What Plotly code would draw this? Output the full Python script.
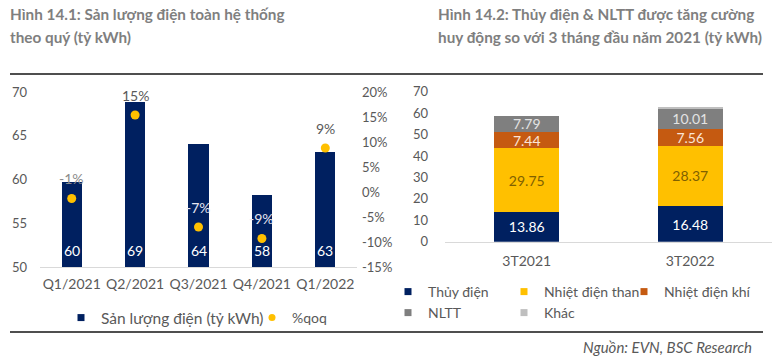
import plotly.graph_objects as go

W, H = 772, 360
FONT = "Lato"
GRAY_TXT = "#595959"
NAVY = "#002060"
GOLD = "#FFC000"
ORANGE = "#C55A11"
DGRAY = "#7F7F7F"
LGRAY = "#BFBFBF"
RULE = "#4D4D4D"

# ---- Left chart data ----
quarters = ["Q1/2021", "Q2/2021", "Q3/2021", "Q4/2021", "Q1/2022"]
output_twh = [59.7, 68.9, 64.1, 58.2, 63.1]
qoq_pct = [-1.3, 15.4, -7.0, -9.3, 8.8]
left_ticks = [50, 55, 60, 65, 70]
right_tickvals = [-15, -10, -5, 0, 5, 10, 15, 20]
right_ticktext = ["-15%", "-10%", "-5%", "0%", "5%", "10%", "15%", "20%"]
qoq_label_colors = ["#8C8C8C", "#595959", "#E6E6F0", "#E6E6F0", "#595959"]

# ---- Right chart data ----
periods = ["3T2021", "3T2022"]
thuy_dien = [13.86, 16.48]
nhiet_than = [29.75, 28.37]
nhiet_khi = [7.44, 7.56]
nltt = [7.79, 10.01]
khac = [0.0, 0.3]
stack_ticks = [0, 10, 20, 30, 40, 50, 60, 70]

# page rules (pixel rows of the two framing lines)
rule_rows = [74, 332]
rule_left, rule_right = 10, 763


def px(x):
    return x / W


def py(y):
    return 1 - y / H


fig = go.Figure()

# Framing rules as a line trace on a hidden full-page axis (drawn first)
rx, ry = [], []
for r in rule_rows:
    rx += [rule_left, rule_right, None]
    ry += [r, r, None]
fig.add_trace(go.Scatter(
    x=rx, y=ry, xaxis="x3", yaxis="y4", mode="lines", cliponaxis=False,
    line=dict(color=RULE, width=1.6), showlegend=False, hoverinfo="skip"))

# Left chart bars
fig.add_trace(go.Bar(
    x=quarters, y=output_twh, xaxis="x", yaxis="y", width=0.32,
    marker=dict(color=NAVY, line=dict(width=0)), showlegend=False,
    name="Sản lượng điện (tỷ kWh)", hoverinfo="skip"))
# qoq points
fig.add_trace(go.Scatter(
    x=quarters, y=qoq_pct, xaxis="x", yaxis="y2", mode="markers",
    marker=dict(color=GOLD, size=9), showlegend=False, name="%qoq"))

# Right chart stacked bars
stack_series = [
    ("Thủy điện", thuy_dien, NAVY, "#FFFFFF"),
    ("Nhiệt điện than", nhiet_than, GOLD, "#7F6000"),
    ("Nhiệt điện khí", nhiet_khi, ORANGE, "#FBE5D6"),
    ("NLTT", nltt, DGRAY, "#E3E3E3"),
    ("Khác", khac, LGRAY, "#595959"),
]
for name, vals, col, tcol in stack_series:
    fig.add_trace(go.Bar(
        x=periods, y=vals, xaxis="x2", yaxis="y3", width=0.4, name=name,
        marker=dict(color=col, line=dict(width=0)),
        text=[f"{v:.2f}" if name != "Khác" else "" for v in vals],
        textposition="inside", insidetextanchor="middle",
        textfont=dict(color=tcol, size=14, family=FONT),
        showlegend=False, hoverinfo="skip"))

# Legend-only entries (small symbols), parked off-screen on the hidden page axis
legend_items = [
    ("Sản lượng điện (tỷ kWh)", NAVY, "square", "legend"),
    ("%qoq", GOLD, "circle", "legend2"),
    ("Thủy điện", NAVY, "square", "legend3"),
    ("Nhiệt điện than", GOLD, "square", "legend4"),
    ("Nhiệt điện khí", ORANGE, "square", "legend5"),
    ("NLTT", DGRAY, "square", "legend6"),
    ("Khác", LGRAY, "square", "legend7"),
]
for name, col, sym, lg in legend_items:
    fig.add_trace(go.Scatter(
        x=[-100], y=[-100], xaxis="x3", yaxis="y4", mode="markers", name=name,
        marker=dict(color=col, symbol=sym, size=7), legend=lg, showlegend=True,
        hoverinfo="skip"))

annotations = []
# bar value labels at the base
for q, v in zip(quarters, output_twh):
    annotations.append(dict(x=q, y=left_ticks[0], xref="x", yref="y", yshift=17,
                            text=f"{v:.0f}", showarrow=False,
                            font=dict(color="#FFFFFF", size=14, family=FONT)))
# qoq labels above dots
for q, v, c in zip(quarters, qoq_pct, qoq_label_colors):
    annotations.append(dict(x=q, y=v, xref="x", yref="y2", yshift=20,
                            text=f"{v:.0f}%", showarrow=False,
                            font=dict(color=c, size=14, family=FONT)))

# titles
title_font = dict(color="#7F7F7F", size=15.3, family=FONT, weight="bold")
for txt, x, y in [
    ("Hình 14.1: Sản lượng điện toàn hệ thống", 8, 14),
    ("theo quý (tỷ kWh)", 8, 37),
    ("Hình 14.2: Thủy điện & NLTT được tăng cường", 436, 14),
    ("huy động so với 3 tháng đầu năm 2021 (tỷ kWh)", 436, 37),
]:
    annotations.append(dict(x=px(x), y=py(y), xref="paper", yref="paper",
                            xanchor="left", yanchor="middle", text=txt,
                            showarrow=False, font=title_font))
annotations.append(dict(x=px(754), y=py(347), xref="paper", yref="paper",
                        xanchor="right", yanchor="middle",
                        text="<i>Nguồn: EVN, BSC Research</i>", showarrow=False,
                        font=dict(color=GRAY_TXT, size=15, family=FONT)))

# same rules also as shapes (above and below layers, axis- and paper-referenced)
shapes = []
for r in rule_rows:
    shapes.append(dict(type="line", xref="paper", yref="paper", layer="above",
                       x0=px(rule_left), x1=px(rule_right), y0=py(r), y1=py(r),
                       line=dict(color=RULE, width=1.6)))
    shapes.append(dict(type="line", xref="x3", yref="y4", layer="below",
                       x0=rule_left, x1=rule_right, y0=r, y1=r,
                       line=dict(color=RULE, width=1.6)))

tickfont = dict(color=GRAY_TXT, size=13, family=FONT)
xtickfont = dict(color=GRAY_TXT, size=14, family=FONT)


def leg(x, y, size=14):
    return dict(orientation="h", yanchor="middle", xanchor="left",
                font=dict(color=GRAY_TXT, size=size, family=FONT),
                bgcolor="rgba(0,0,0,0)", itemsizing="trace", itemwidth=30,
                x=px(x), y=py(y))


fig.update_layout(
    width=W, height=H, margin=dict(l=0, r=0, t=0, b=0, autoexpand=False),
    paper_bgcolor="white", plot_bgcolor="rgba(0,0,0,0)",
    font=dict(family=FONT, color=GRAY_TXT),
    barmode="stack",
    uniformtext=dict(minsize=14, mode="show"),
    xaxis=dict(domain=[px(40), px(357)], anchor="y", type="category",
               showline=True, linecolor="#D9D9D9", linewidth=1, ticks="",
               showgrid=False, zeroline=False, tickfont=xtickfont,
               ticklabelstandoff=4),
    yaxis=dict(domain=[py(267), py(92)], anchor="x", range=[50, 70],
               tickvals=left_ticks, showgrid=False, zeroline=False,
               showline=False, ticks="", tickfont=tickfont, ticklabelstandoff=12),
    yaxis2=dict(overlaying="y", side="right", anchor="x", range=[-15, 20],
                tickvals=right_tickvals, ticktext=right_ticktext,
                showgrid=False, zeroline=False, showline=False, ticks="",
                tickfont=tickfont, ticklabelstandoff=4),
    xaxis2=dict(domain=[px(445), 1], anchor="y3", type="category",
                showline=True, linecolor="#D9D9D9", linewidth=1, ticks="",
                showgrid=False, zeroline=False, tickfont=xtickfont,
                ticklabelstandoff=6),
    yaxis3=dict(domain=[py(241.7), py(91.7)], anchor="x2", range=[0, 70],
                tickvals=stack_ticks, showgrid=False, zeroline=False,
                showline=False, ticks="", tickfont=tickfont, ticklabelstandoff=16),
    xaxis3=dict(domain=[0, 1], anchor="y4", range=[0, W], visible=False,
                fixedrange=True, showgrid=False, zeroline=False),
    yaxis4=dict(domain=[0, 1], anchor="x3", range=[H, 0], visible=False,
                fixedrange=True, showgrid=False, zeroline=False),
    legend=leg(61, 318, 15.5),
    legend2=leg(252, 318, 14),
    legend3=leg(388, 292),
    legend4=leg(504, 292),
    legend5=leg(624, 292),
    legend6=leg(388, 313),
    legend7=leg(504, 313),
    annotations=annotations,
    shapes=shapes,
)

fig.write_html("out.html", config={"displayModeBar": False},
               post_script="document.body.style.margin='0';document.body.style.padding='0';")
